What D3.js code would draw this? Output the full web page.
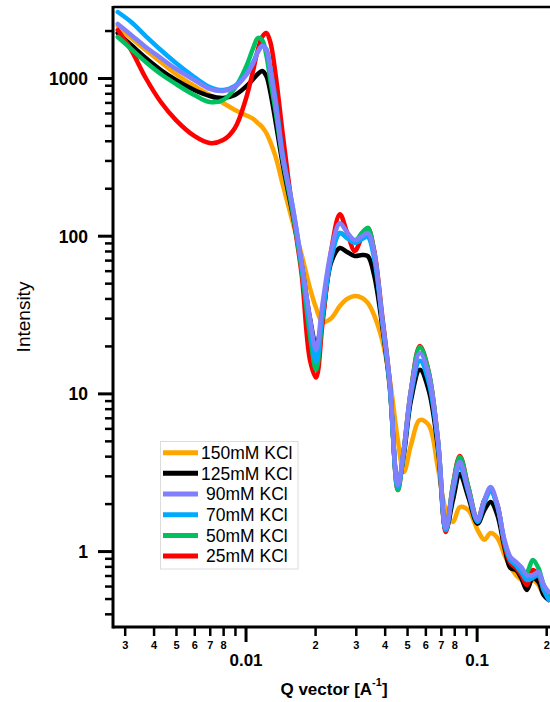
<!DOCTYPE html>
<html>
<head>
<meta charset="utf-8">
<script src="https://cdn.jsdelivr.net/npm/d3@7"></script>
<style>
body { margin: 0; background: #fff; }
svg { display: block; font-family: "Liberation Sans", Arial, sans-serif; }
</style>
</head>
<body>
<script>
// scattering vector q [A^-1], shared by all series
var qValues = [0.0028, 0.0032, 0.0037, 0.0043, 0.005, 0.006, 0.007, 0.008, 0.009, 0.01,
    0.0108, 0.0113, 0.0118, 0.0123, 0.0128, 0.0135, 0.0145, 0.016, 0.0175, 0.019,
    0.0202, 0.0215, 0.0235, 0.0256, 0.0275, 0.0297, 0.032, 0.0338, 0.036, 0.039,
    0.042, 0.0456, 0.0484, 0.052, 0.0568, 0.062, 0.068, 0.0736, 0.079, 0.0846,
    0.092, 0.101, 0.108, 0.115, 0.123, 0.132, 0.14, 0.148, 0.156, 0.165,
    0.175, 0.185, 0.195, 0.205];

// intensities
var kcl150 = [2136, 1793, 1505, 1263, 1060, 890, 780, 694, 627, 583,
    550, 518, 489, 448, 393, 316, 210, 122, 75.4, 46.6,
    34.8, 28.4, 30.0, 35.8, 39.7, 41.5, 40.3, 37.5, 31.4, 21.8,
    12.5, 5.06, 3.17, 4.71, 6.78, 6.30, 3.37, 1.82, 1.53, 1.90,
    1.82, 1.36, 1.18, 1.30, 1.21, 0.945, 0.793, 0.705, 0.656, 0.610,
    0.656, 0.610, 0.527, 0.490];
var kcl125 = [1929, 1620, 1339, 1124, 971, 839, 769, 747, 780, 877,
    985, 1060, 1108, 1030, 815, 526, 281, 136, 65.2, 30.0,
    20.3, 30.0, 68.1, 83.6, 78.8, 74.3, 75.4, 74.3, 56.3, 27.1,
    11.3, 2.66, 4.07, 9.08, 14.1, 10.5, 4.51, 1.36, 2.11, 3.08,
    2.20, 1.49, 1.82, 2.05, 1.69, 1.05, 0.781, 0.759, 0.675, 0.567,
    0.675, 0.637, 0.527, 0.490];
var kcl90 = [2200, 1874, 1573, 1339, 1141, 971, 852, 827, 877, 1030,
    1245, 1462, 1596, 1505, 1124, 674, 311, 152, 67.1, 30.0,
    18.9, 36.4, 81.2, 120, 105, 93.9, 99.6, 104, 78.8, 30.0,
    12.2, 2.63, 4.38, 10.5, 18.0, 13.1, 5.06, 1.40, 2.51, 3.67,
    2.44, 1.58, 2.11, 2.55, 1.96, 1.18, 0.918, 0.853, 0.793, 0.705,
    0.705, 0.737, 0.610, 0.550];
var kcl70 = [2621, 2265, 1846, 1505, 1245, 1015, 877, 839, 890, 1045,
    1263, 1462, 1596, 1527, 1157, 725, 325, 152, 65.2, 27.1,
    15.8, 31.4, 72.2, 104, 96.7, 89.9, 95.3, 98.0, 72.2, 29.2,
    11.8, 2.55, 4.25, 9.77, 16.1, 11.8, 4.85, 1.36, 2.37, 3.46,
    2.37, 1.53, 2.02, 2.41, 1.90, 1.14, 0.878, 0.816, 0.737, 0.656,
    0.675, 0.705, 0.567, 0.490];
var kcl50 = [1820, 1527, 1263, 1060, 916, 780, 704, 725, 864, 1157,
    1550, 1793, 1742, 1399, 971, 609, 302, 141, 60.6, 23.5,
    14.1, 30.0, 75.4, 104, 96.7, 92.6, 105, 112, 78.8, 30.0,
    11.8, 2.44, 4.38, 10.5, 19.7, 13.7, 5.06, 1.36, 2.63, 3.95,
    2.55, 1.58, 2.11, 2.44, 1.96, 1.14, 0.878, 0.816, 0.737, 0.737,
    0.878, 0.781, 0.610, 0.527];
var kcl25 = [2016, 1505, 1000, 704, 541, 429, 387, 404, 482, 725,
    1124, 1505, 1820, 1929, 1692, 1045, 435, 141, 56.3, 16.3,
    12.6, 27.1, 81.2, 137, 105, 80.0, 99.6, 112, 81.2, 31.4,
    12.2, 2.44, 4.38, 10.5, 20.0, 13.7, 5.06, 1.32, 2.63, 4.01,
    2.55, 1.58, 2.11, 2.41, 1.96, 1.09, 0.840, 0.781, 0.705, 0.610,
    0.759, 0.705, 0.567, 0.512];

var legendNames = ["150mM KCl", "125mM KCl", "90mM KCl", "70mM KCl", "50mM KCl", "25mM KCl"];
var legendColors = ["#ffa500", "#000000", "#8080ff", "#00aaff", "#00c060", "#ff0000"];
var legendValues = [kcl150, kcl125, kcl90, kcl70, kcl50, kcl25];

// draw order: orange at the bottom, lavender on top
var drawOrder = [0, 1, 5, 4, 3, 2];

var xMajor = [0.01, 0.1];
var xMinor = [0.003, 0.004, 0.005, 0.006, 0.007, 0.008, 0.009,
    0.02, 0.03, 0.04, 0.05, 0.06, 0.07, 0.08, 0.09, 0.2];
var yMajor = [1, 10, 100, 1000];
var yMinor = [0.4, 0.5, 0.6, 0.7, 0.8, 0.9, 2, 3, 4, 5, 6, 7, 8, 9,
    20, 30, 40, 50, 60, 70, 80, 90, 200, 300, 400, 500, 600, 700, 800, 900, 2000];

var width = 550,
    height = 702;

var plotLeft = 113, plotTop = 7, plotBottom = 627;

var svg = d3.select("body")
    .append("svg")
    .attr("width", width)
    .attr("height", height);

var x = d3.scaleLog()
    .domain([0.00267, 0.2])
    .range([plotLeft, 546.2]);

var y = d3.scaleLog()
    .domain([0.33, 2820])
    .range([plotBottom, plotTop]);

// minor ticks first, majors on top
var xMinorAxis = d3.axisBottom(x)
    .tickValues(xMinor)
    .tickSize(9)
    .tickFormat(function (d) {
        var lead = Math.round(d / Math.pow(10, Math.floor(Math.log10(d) + 1e-9)));
        return lead === 9 ? "" : String(lead);
    });

var gxMinor = svg.append("g")
    .attr("transform", "translate(0," + plotBottom + ")")
    .call(xMinorAxis);
gxMinor.select(".domain").remove();
gxMinor.selectAll("line").attr("stroke-width", 2.5);
gxMinor.selectAll("text")
    .attr("y", 21.5)
    .attr("dy", 0)
    .style("font-size", "11px")
    .style("font-weight", "bold")
    .attr("fill", "#000");

var gxMajor = svg.append("g")
    .attr("transform", "translate(0," + plotBottom + ")")
    .call(d3.axisBottom(x).tickValues(xMajor).tickSize(15).tickFormat(function (d) { return d === 0.01 ? "0.01" : "0.1"; }));
gxMajor.select(".domain").remove();
gxMajor.selectAll("line").attr("stroke-width", 3);
gxMajor.selectAll("text")
    .attr("y", 39)
    .attr("dy", 0)
    .style("font-size", "17px")
    .style("font-weight", "bold")
    .attr("fill", "#000");

var gyMinor = svg.append("g")
    .attr("transform", "translate(" + plotLeft + ",0)")
    .call(d3.axisLeft(y).tickValues(yMinor).tickSize(8).tickFormat(""));
gyMinor.select(".domain").remove();
gyMinor.selectAll("line").attr("stroke-width", 2.5);

var gyMajor = svg.append("g")
    .attr("transform", "translate(" + plotLeft + ",0)")
    .call(d3.axisLeft(y).tickValues(yMajor).tickSize(15).tickPadding(10).tickFormat(d3.format("d")));
gyMajor.select(".domain").remove();
gyMajor.selectAll("line").attr("stroke-width", 3);
gyMajor.selectAll("text")
    .attr("dy", "0.36em")
    .style("font-size", "17.5px")
    .style("font-weight", "bold")
    .attr("fill", "#000");

// frame: left, bottom, top
svg.append("line")
    .attr("x1", plotLeft).attr("x2", plotLeft)
    .attr("y1", plotTop - 1).attr("y2", plotBottom + 1.5)
    .attr("stroke", "#000").attr("stroke-width", 3);
svg.append("line")
    .attr("x1", plotLeft).attr("x2", width + 10)
    .attr("y1", plotBottom).attr("y2", plotBottom)
    .attr("stroke", "#000").attr("stroke-width", 3);
svg.append("line")
    .attr("x1", plotLeft).attr("x2", width + 10)
    .attr("y1", plotTop).attr("y2", plotTop)
    .attr("stroke", "#000").attr("stroke-width", 2.5);

var line = d3.line()
    .x(function (d) { return x(d[0]); })
    .y(function (d) { return y(d[1]); })
    .curve(d3.curveCatmullRom.alpha(0.5));

svg.append("g")
    .selectAll("path")
    .data(drawOrder)
    .enter().append("path")
    .attr("d", function (i) {
        return line(qValues.map(function (q, k) { return [q, legendValues[i][k]]; }));
    })
    .attr("fill", "none")
    .attr("stroke", function (i) { return legendColors[i]; })
    .attr("stroke-width", 4.5)
    .attr("stroke-linejoin", "round")
    .attr("stroke-linecap", "round");

// legend
var legend = svg.append("g");
legend.append("rect")
    .attr("x", 160.5).attr("y", 441.5)
    .attr("width", 137.5).attr("height", 127.5)
    .attr("fill", "#fff")
    .attr("stroke", "#dcdcdc");

var items = legend.selectAll("g.item")
    .data(legendNames)
    .enter().append("g")
    .attr("class", "item")
    .attr("transform", function (d, i) { return "translate(0," + (452.7 + i * 20.67) + ")"; });

items.append("line")
    .attr("x1", 163).attr("x2", 198)
    .attr("stroke", function (d, i) { return legendColors[i]; })
    .attr("stroke-width", 5);

items.append("text")
    .attr("x", function (d) { return d.length > 8 ? 201 : 206; })
    .attr("y", 6.3)
    .style("font-size", "17.5px")
    .text(function (d) { return d; });

// axis titles
var xTitle = svg.append("text")
    .attr("x", 334)
    .attr("y", 695)
    .attr("text-anchor", "middle")
    .style("font-size", "17px")
    .style("font-weight", "bold");
xTitle.append("tspan").text("Q vector [A");
xTitle.append("tspan").attr("dy", -9).style("font-size", "11px").text("-1");
xTitle.append("tspan").attr("dy", 9).text("]");

svg.append("text")
    .attr("transform", "translate(30,317) rotate(-90)")
    .attr("text-anchor", "middle")
    .style("font-size", "19px")
    .text("Intensity");
</script>
</body>
</html>
